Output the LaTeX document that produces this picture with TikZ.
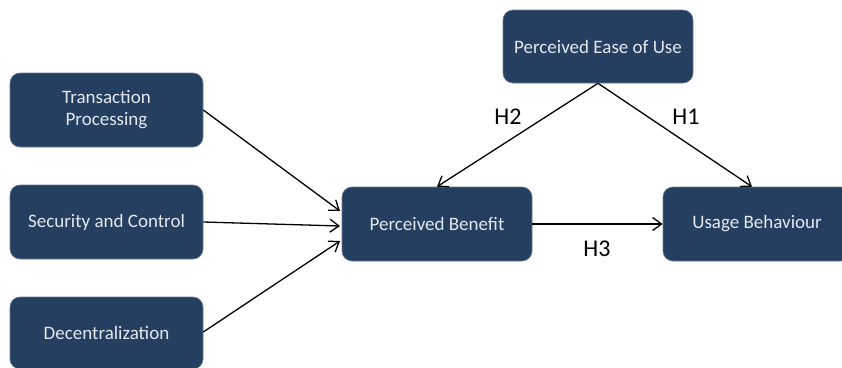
\documentclass[tikz,border=0pt]{standalone}
\usepackage{fontspec}
\setmainfont{Carlito}
\usetikzlibrary{arrows.meta}
\definecolor{boxblue}{HTML}{243F60}
\definecolor{boxtext}{HTML}{E4E8EE}
\tikzset{
  box/.style={draw=boxblue!70!white, line width=0.6pt, fill=boxblue, rounded corners=10pt, text=boxtext,
    font=\fontsize{19}{22}\selectfont, align=center, inner sep=0pt},
  conn/.style={line width=1.3pt, -{Straight Barb[length=9pt,width=13pt,line width=1.3pt]}},
  hlab/.style={font=\fontsize{24}{28}\selectfont, text=black}
}
\begin{document}
\begin{tikzpicture}[x=1pt,y=-1pt]
\useasboundingbox (0,0) rectangle (842,367);
\clip (0,0) rectangle (842,367);
\node[box, minimum width=193pt, minimum height=74pt] (tp) at (106.5,110) {Transaction\\Processing};
\node[box, minimum width=193pt, minimum height=74pt] (sc) at (106.5,222) {Security and Control};
\node[box, minimum width=193pt, minimum height=72pt] (dc) at (106.5,333) {Decentralization};
\node[box, minimum width=190pt, minimum height=73pt] (peu) at (598,46.5) {Perceived Ease of Use};
\node[box, minimum width=190pt, minimum height=74pt] (pb) at (437,224) {Perceived Benefit};
\node[box, minimum width=188pt, minimum height=74pt] (ub) at (757,224) {Usage Behaviour};
\coordinate (pbin1) at (340,211);
\coordinate (pbin2) at (340,226);
\coordinate (pbin3) at (340,241);
\draw[conn] (tp.east) -- (pbin1);
\draw[conn] (sc.east) -- (pbin2);
\draw[conn] (dc.east |- 0,332) -- (pbin3);
\draw[conn] (peu.south) -- (pb.north);
\draw[conn] (peu.south) -- (ub.north -| 752,0);
\draw[conn] (pb.east) -- (ub.west);
\node[hlab] (h2) at (508,117) {H2};
\node[hlab] (h1) at (686,117) {H1};
\node[hlab] (h3) at (597,249) {H3};
\end{tikzpicture}
\end{document}
